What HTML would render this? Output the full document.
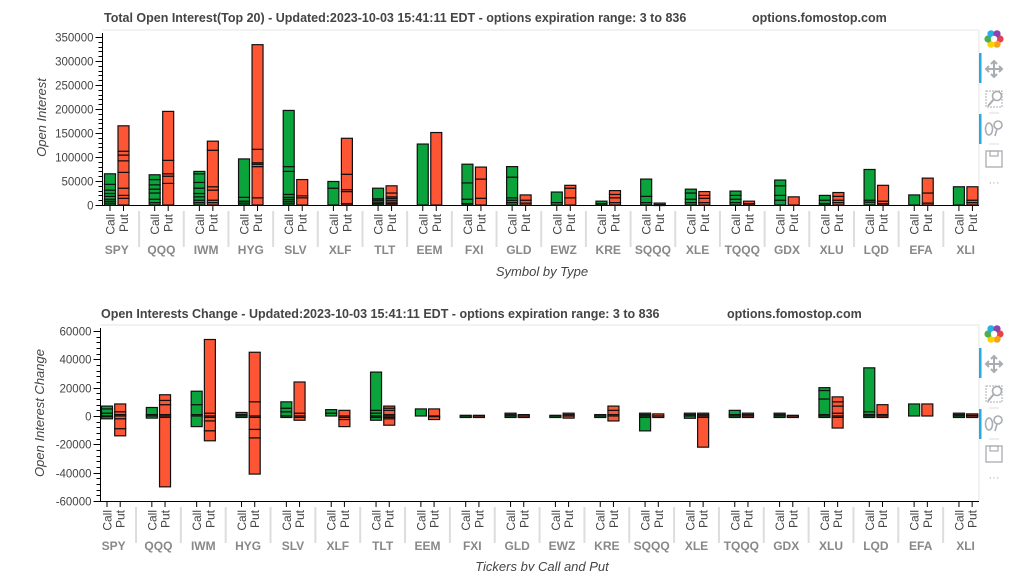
<!DOCTYPE html>
<html><head><meta charset="utf-8">
<style>
html,body{margin:0;padding:0;background:#fff;width:1018px;height:571px;overflow:hidden;font-family:"Liberation Sans",Arial,sans-serif;}
svg text{font-family:"Liberation Sans",Arial,sans-serif;}
</style></head>
<body>
<svg id="chart" width="1018" height="571" viewBox="0 0 1018 571" xmlns="http://www.w3.org/2000/svg"></svg>
<script>
const symbols1 = ["SPY","QQQ","IWM","HYG","SLV","XLF","TLT","EEM","FXI","GLD","EWZ","KRE","SQQQ","XLE","TQQQ","GDX","XLU","LQD","EFA","XLI"];
const yTicks1 = [0,50000,100000,150000,200000,250000,300000,350000];
const callStops1 = [
[4000,8000,12000,18000,24000,31000,43000,65000],[5000,12000,25000,33000,42000,53000,63000],
[5000,10000,17000,24000,35000,47000,65000,70000],[4000,8000,16000,96000],
[4000,8000,12000,16000,22000,70000,80000,197000],[35000,49000],[3000,6000,10000,13000,35000],
[127000],[3000,12000,46000,85000],[5000,10000,15000,58000,80000],[5000,27000],[3000,8000],
[5000,18000,54000],[5000,12000,25000,33000],[5000,12000,20000,29000],[10000,20000,40000,52000],
[3000,10000,20000],[6000,10000,74000],[21000],[38000]];
const putStops1 = [
[14000,20000,35000,68000,92000,104000,112000,165000],[45000,60000,65000,93000,195000],
[5000,10000,31000,38000,114000,133000],[15000,80000,85000,88000,116000,334000],
[15000,19000,53000],[3000,28000,32000,64000,139000],[3000,6000,10000,14000,17000,25000,40000],
[151000],[14000,54000,79000],[4000,10000,21000],[15000,35000,41000],[5000,15000,22000,30000],
[2000,4000],[5000,14000,20000,28000],[3000,8000],[17000],[5000,10000,18000,26000],
[3000,8000,41000],[4000,25000,56000],[5000,10000,38000]];

const symbols2 = ["SPY","QQQ","IWM","HYG","SLV","XLF","TLT","EEM","FXI","GLD","EWZ","KRE","SQQQ","XLE","TQQQ","GDX","XLU","LQD","EFA","XLI"];
const yTicks2 = [-60000,-40000,-20000,0,20000,40000,60000];
const callPos2 = [[2000,5000,7000],[1000,6000],[1000,8000,17500],[1000,2500],[3000,5500,10000],[2000,4500],[2000,4000,31000],[5000],[500],[1000,2000],[500],[1000],[1000,2000],[1000,2000],[1000,4000],[1000,2000],[1000,12000,18000,20000],[1000,3000,34000],[8500],[1000,2000]];
const callNeg2 = [[-500,-2000],[-1500],[-7500],[-500],[-1000],[],[-1000,-3000],[],[-500],[-1000],[-500],[-500],[-1000,-10500],[-1600],[-1000],[-1000],[-1000],[-1000],[],[-500]];
const putPos2 = [[1000,3000,8500],[1000,8000,11000,15000],[2000,54000],[10000,45000],[2000,24000],[4000],[1000,4000,5500,7000],[5000],[500],[1000],[1000,2000],[1000,4000,7000],[1500],[1000,2000],[1000,2000],[500],[2000,7000,10000,13500],[1000,8000],[8500],[1000,1500]];
const putNeg2 = [[-2000,-9000,-14000],[-1000,-50000],[-1000,-3500,-10500,-17500],[-1000,-9500,-15500,-41000],[-1000,-3000],[-1000,-2500,-7500],[-1000,-2000,-6500],[-500,-2500],[-500],[-1000],[-1500],[-3500],[-1000],[-1000,-22000],[-1000],[-500],[-1000,-8500],[-1000],[],[-500]];

const NS="http://www.w3.org/2000/svg";
const svg=document.getElementById('chart');
function mk(tag,attrs,parent){const e=document.createElementNS(NS,tag);for(const k in attrs)e.setAttribute(k,attrs[k]);(parent||svg).appendChild(e);return e;}
const GREEN="#0ba33b", RED="#fe5534";

function drawPanel(o){
  const g=mk('g',{});
  
  
  const y=v=>o.y0+(v-o.vmin)*(o.y1-o.y0)/(o.vmax-o.vmin);
  const t=mk('text',{x:o.titleX,y:o.titleY,'font-size':12.5,'font-weight':'bold',fill:'#444'},g);
  t.textContent=o.title;
  
  const t2=mk('text',{x:o.siteX,y:o.titleY,'font-size':12.5,'font-weight':'bold',fill:'#444'},g);
  t2.textContent='options.fomostop.com';
  
  mk('line',{x1:o.axX,y1:o.top,x2:o.right,y2:o.top,stroke:'#e5e5e5'},g);
  mk('line',{x1:o.right,y1:o.top,x2:o.right,y2:o.axY,stroke:'#e5e5e5'},g);
  const ya=mk('g',{},g);
  mk('line',{x1:o.axX,y1:o.top+3,x2:o.axX,y2:o.axY,stroke:'#000'},ya);
  const step=o.ticks[1]-o.ticks[0];
  for(let v=o.ticks[0];v<=o.ticks[o.ticks.length-1]+1;v+=step/5){
    const yy=Math.round(y(v))+0.5;
    mk('line',{x1:o.axX-4,y1:yy,x2:o.axX,y2:yy,stroke:'#000'},ya);
  }
  o.ticks.forEach(v=>{
    const yy=Math.round(y(v))+0.5;
    mk('line',{x1:o.axX-7,y1:yy,x2:o.axX,y2:yy,stroke:'#000'},ya);
    const tx=mk('text',{x:o.axX-9,y:yy+4,'font-size':11.5,'text-anchor':'end',fill:'#444'},ya);
    tx.textContent=String(v);
    
  });
  const yl=mk('text',{transform:`translate(${o.ylabX},${(o.top+o.axY)/2}) rotate(-90)`,'font-size':13,'font-style':'italic','text-anchor':'middle',fill:'#444'},g);
  yl.textContent=o.ylabel;
  mk('line',{x1:o.axX,y1:o.axY+0.5,x2:o.right,y2:o.axY+0.5,stroke:'#000'},g);
  const n=o.syms.length;
  const xc=i=>o.cx0+o.pitch*i, xp=i=>o.cx0+o.pitch*i+o.sub;
  const bw=11;
  function bar(x,stops,color,nm){
    const bg=mk('g',{},g);
    let prev=0;
    stops.forEach(s=>{
      const ya_=y(prev), yb=y(s);
      const top=Math.min(ya_,yb),h=Math.max(Math.abs(ya_-yb),1.5);
      const r=mk('rect',{x:x-bw/2,y:top,width:bw,height:h,fill:color,stroke:'#111','stroke-width':1.2},bg);
      
      prev=s;
    });
  }
  for(let i=0;i<n;i++){
    o.callSets.forEach(st=>bar(xc(i),st[i],GREEN,'call-bar-'+o.syms[i].toLowerCase()));
    o.putSets.forEach(st=>bar(xp(i),st[i],RED,'put-bar-'+o.syms[i].toLowerCase()));
    [[xc(i),'Call'],[xp(i),'Put']].forEach(([x,l])=>{
      mk('line',{x1:x,y1:o.axY,x2:x,y2:o.axY+6,stroke:'#000'},g);
      const tl=mk('text',{transform:`translate(${x+4.5},${o.axY+9}) rotate(-90)`,'font-size':12,'text-anchor':'end',fill:'#444'},g);
      tl.textContent=l;
    });
    const gl=mk('text',{x:(xc(i)+xp(i))/2,y:o.axY+49,'font-size':12,'font-weight':'bold','text-anchor':'middle',fill:'#888'},g);
    gl.textContent=o.syms[i];
    if(i<n-1){const sx=(xp(i)+xc(i+1))/2;mk('line',{x1:sx,y1:o.axY+6,x2:sx,y2:o.axY+42,stroke:'#ddd','stroke-width':2},g);}
  }
  const xl=mk('text',{x:542,y:o.xlabY,'font-size':13,'font-style':'italic','text-anchor':'middle',fill:'#444'},g);
  xl.textContent=o.xlabel;
  const tb=mk('g',{},g);
  const T=o.top;
  const cols=['#e8414e','#f7a21b','#fcd000','#4caf50','#23b2e3','#8e44ad'];
  cols.forEach((c,k)=>{const a=k*60*Math.PI/180;mk('circle',{cx:994+6*Math.cos(a),cy:T+9+6*Math.sin(a),r:3.6,fill:c},tb);});
  mk('circle',{cx:994,cy:T+9,r:3.2,fill:'#fff'},tb);
  mk('rect',{x:979,y:T+23,width:2.5,height:30,fill:'#26aae1'},tb);
  mk('rect',{x:979,y:T+84,width:2.5,height:30,fill:'#26aae1'},tb);
  const gr='#a9acb0';
  mk('path',{d:`M994 ${T+31} v16 M986 ${T+39} h16 M991 ${T+34} l3 -3 l3 3 M991 ${T+44} l3 3 l3 -3 M989 ${T+36} l-3 3 l3 3 M999 ${T+36} l3 3 l-3 3`,stroke:gr,'stroke-width':2,fill:'none'},tb);
  mk('rect',{x:986,y:T+61,width:16,height:16,fill:'none',stroke:gr,'stroke-dasharray':'2 1'},tb);
  mk('circle',{cx:997,cy:T+66,r:4.5,fill:'#fff',stroke:gr,'stroke-width':1.6},tb);
  mk('line',{x1:994,y1:T+69,x2:988,y2:T+76,stroke:gr,'stroke-width':2},tb);
  mk('line',{x1:989,y1:T+83,x2:999,y2:T+83,stroke:'#ddd'},tb);
  mk('ellipse',{cx:989,cy:T+99,rx:3.5,ry:6,fill:'none',stroke:gr,'stroke-width':1.6},tb);
  mk('circle',{cx:998,cy:T+95,r:4,fill:'none',stroke:gr,'stroke-width':1.6},tb);
  mk('line',{x1:997,y1:T+99,x2:995,y2:T+106,stroke:gr,'stroke-width':1.6},tb);
  mk('line',{x1:989,y1:T+114,x2:999,y2:T+114,stroke:'#ddd'},tb);
  mk('rect',{x:986,y:T+121,width:16,height:16,fill:'none',stroke:gr,'stroke-width':1.3},tb);
  mk('rect',{x:990,y:T+121,width:8,height:5,fill:'none',stroke:gr,'stroke-width':1.2},tb);
  const d=mk('text',{x:994,y:T+156,'font-size':11,'text-anchor':'middle',fill:gr},tb);d.textContent='···';
}

drawPanel({name:'total-open-interest-chart',title:'Total Open Interest(Top 20) - Updated:2023-10-03 15:41:11 EDT - options expiration range: 3 to 836',siteX:752,
  titleX:104,titleY:22,top:30,right:979,axX:102.5,axY:205,y0:205,y1:37,vmin:0,vmax:350000,ticks:yTicks1,
  ylabel:'Open Interest',ylabX:46,xlabel:'Symbol by Type',xlabY:276,syms:symbols1,cx0:110,pitch:44.68,sub:13.5,
  callSets:[callStops1],putSets:[putStops1]});
drawPanel({name:'open-interest-change-chart',title:'Open Interests Change - Updated:2023-10-03 15:41:11 EDT - options expiration range: 3 to 836',siteX:727,
  titleX:101,titleY:318,top:325,right:979,axX:100.5,axY:501,y0:501,y1:331,vmin:-60000,vmax:60000,ticks:yTicks2,
  ylabel:'Open Interest Change',ylabX:44,xlabel:'Tickers by Call and Put',xlabY:571,syms:symbols2,cx0:107,pitch:44.84,sub:13.2,
  callSets:[callPos2,callNeg2],putSets:[putPos2,putNeg2]});
</script>
</body></html>
